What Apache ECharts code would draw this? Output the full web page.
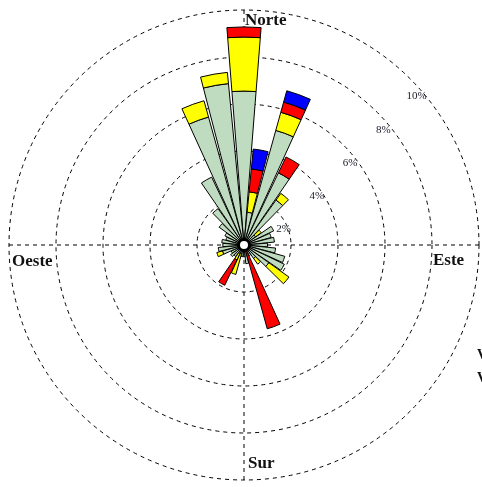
<!DOCTYPE html>
<html><head><meta charset="utf-8">
<script src="https://cdn.jsdelivr.net/npm/echarts/dist/echarts.min.js"></script>
<style>html,body{margin:0;padding:0;background:#fff}#c{width:482px;height:487px}</style>
</head><body><div id="c"></div>
<script>
// Directions (degrees clockwise from north)
const directions = ['0','10','20','30','40','50','60','70','80','90','100','110','120','130','140','150','160','170',
  '180','190','200','210','220','230','240','250','260','270','280','290','300','310','320','330','340','350'];
// Frequency (%) per speed class, stacked
const greenClass  = [6.55,1.4,5.06,3.4,2.35,0.6,1.4,1.2,1.3,1.0,1.35,1.8,1.9,1.3,0.7,0.5,0.3,0.8,
                     0.5,0.5,0.4,0.4,0.6,0.7,0.6,0.95,1.1,0.9,0.95,0.8,0.9,1.3,1.9,3.2,5.65,6.9];
const yellowClass = [2.3,0.87,0.8,0,0.35,0.3,0,0,0,0,0,0,0,1.05,0.3,0,0,0,
                     0,0,0.9,0.3,0,0,0,0.25,0,0,0,0,0,0,0,0,0.72,0.48];
const redClass    = [0.43,0.98,0.45,0.75,0,0,0,0,0,0,0,0,0,0,0,0,3.4,0,
                     0,0,0,1.2,0,0,0,0,0,0,0,0,0,0,0,0,0,0];
const blueClass   = [0,0.85,0.5,0,0,0,0,0,0,0,0,0,0,0,0,0,0,0,
                     0,0,0,0,0,0,0,0,0,0,0,0,0,0,0,0,0,0];
const ringTicks = [2,4,6,8,10];
const quadrants = ['Norte','Este','Sur','Oeste'];

const CX = 244, CY = 245, R = 235, MAXV = 10;
const chart = echarts.init(document.getElementById('c'), null, {renderer:'canvas'});
const clean = a => a.map(v => v === 0 ? '-' : v);
const border = {borderColor:'#000', borderWidth:1};
function barSeries(data, color){
  return {type:'bar', coordinateSystem:'polar', polarIndex:0, stack:'w', data:clean(data),
    barCategoryGap:'10%', itemStyle:Object.assign({color:color}, border), silent:true, animation:false};
}
// ring labels along ~45deg direction
const ringLabels = ringTicks.map(v => {
  const along = v * R / MAXV - 8, a = Math.PI/4, d = 17;
  const x = CX + along*Math.sin(a) + d*Math.cos(a);
  const y = CY - along*Math.cos(a) + d*Math.sin(a);
  return {type:'text', x:x, y:y, z:100, style:{text:v+'%', font:'11px "Liberation Serif"', fill:'#1a1a2a', align:'center', verticalAlign:'middle'}};
});
const dirStyle = '700 17px "Liberation Serif"';
function dirText(t, x, y){
  return {type:'text', x:x, y:y, z:100, style:{text:t, font:dirStyle, fill:'#111', align:'left', verticalAlign:'middle'}};
}
chart.setOption({
  animation:false,
  polar:[{center:[CX,CY], radius:[0,R]},{center:[CX,CY], radius:[0,R]}],
  angleAxis:[
    {polarIndex:0, type:'category', data:directions, startAngle:95, clockwise:true,
     axisLine:{show:false}, axisTick:{show:false}, axisLabel:{show:false}, splitLine:{show:false}},
    {polarIndex:1, type:'category', data:quadrants, startAngle:90, clockwise:true,
     axisLine:{show:false}, axisTick:{show:false}, axisLabel:{show:false},
     splitLine:{show:true, lineStyle:{color:'#000', width:1, type:[4,4]}}}
  ],
  radiusAxis:[
    {polarIndex:0, min:0, max:MAXV, interval:2, axisLine:{show:false}, axisTick:{show:false}, axisLabel:{show:false},
     splitLine:{show:true, lineStyle:{color:'#000', width:1, type:[4,4]}}},
    {polarIndex:1, min:0, max:MAXV, axisLine:{show:false}, axisTick:{show:false}, axisLabel:{show:false}, splitLine:{show:false}}
  ],
  series:[
    barSeries(greenClass,'#c0dcc0'),
    barSeries(yellowClass,'#ffff00'),
    barSeries(redClass,'#ff0000'),
    barSeries(blueClass,'#0000ff')
  ],
  graphic:[
    {type:'circle', shape:{cx:CX, cy:CY, r:5.5}, z:100, style:{fill:'#fff', stroke:'#000', lineWidth:3}},
    ...ringLabels,
    dirText(quadrants[0], 245, 21),
    dirText(quadrants[1], 433, 261),
    dirText(quadrants[2], 248, 464),
    dirText(quadrants[3], 12, 262),
    {type:'text', x:477, y:355, z:100, style:{text:'Velocidad', font:'700 14px "Liberation Serif"', fill:'#111', verticalAlign:'middle'}},
    {type:'text', x:477, y:378, z:100, style:{text:'Viento', font:'700 14px "Liberation Serif"', fill:'#111', verticalAlign:'middle'}}
  ]
});
</script></body></html>
